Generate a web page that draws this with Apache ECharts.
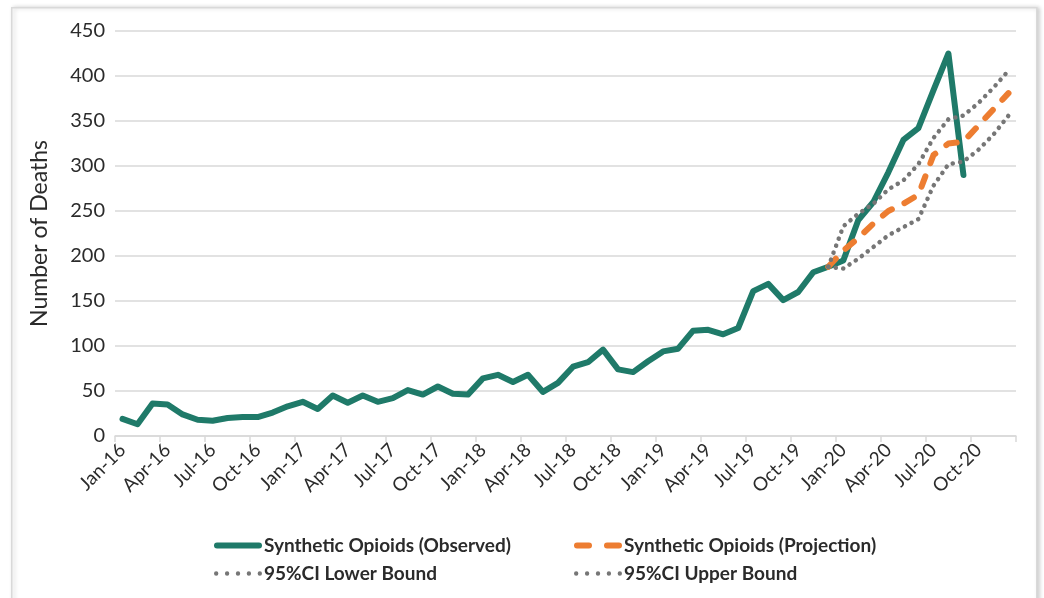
<!DOCTYPE html>
<html><head><meta charset="utf-8">
<script src="https://cdn.jsdelivr.net/npm/echarts@6/dist/echarts.min.js"></script>
<style>html,body{margin:0;padding:0;background:#fff}#c{width:1044px;height:598px}</style>
</head><body><div id="c"></div>
<script>
const months = [
  'Jan-16','Feb-16','Mar-16','Apr-16','May-16','Jun-16','Jul-16','Aug-16','Sep-16','Oct-16','Nov-16','Dec-16',
  'Jan-17','Feb-17','Mar-17','Apr-17','May-17','Jun-17','Jul-17','Aug-17','Sep-17','Oct-17','Nov-17','Dec-17',
  'Jan-18','Feb-18','Mar-18','Apr-18','May-18','Jun-18','Jul-18','Aug-18','Sep-18','Oct-18','Nov-18','Dec-18',
  'Jan-19','Feb-19','Mar-19','Apr-19','May-19','Jun-19','Jul-19','Aug-19','Sep-19','Oct-19','Nov-19','Dec-19',
  'Jan-20','Feb-20','Mar-20','Apr-20','May-20','Jun-20','Jul-20','Aug-20','Sep-20','Oct-20','Nov-20','Dec-20'
];
const observed = [
  19, 13, 36, 35, 24, 18, 17, 20, 21, 21, 26, 33,
  38, 30, 45, 37, 45, 38, 42, 51, 46, 55, 47, 46,
  64, 68, 60, 68, 49, 59, 77, 82, 96, 74, 71, 83,
  94, 97, 117, 118, 113, 120, 161, 169, 151, 160, 182, 188,
  195, 240, 260, 293, 329, 342, 384, 425, 290, null, null, null
];
const projStart = 'Dec-19';
const projection = [188, 206, 220, 236, 250, 258, 268, 312, 325, 327, 345, 363, 381];
const lowerBound = [188, 186, 197, 210, 223, 232, 241, 278, 302, 305, 318, 335, 356];
const upperBound = [188, 233, 247, 258, 274, 284, 302, 331, 352, 356, 370, 387, 406];
const yMin = 0, yMax = 450, yStep = 50;

const startIdx = months.indexOf(projStart);
function align(arr) {
  return months.map((m, i) => (i >= startIdx && i - startIdx < arr.length) ? arr[i - startIdx] : null);
}

const FONT = 'Lato';
const TXT = '#2b2b2b';
const GREEN = '#1f7a69', ORANGE = '#ed7d31', GREY = '#767676';
// legend icons (drawn as paths, scaled into the legend item box)
const ICON_SOLID = 'path://M3,0h42a3,3 0 0,1 0,6h-42a3,3 0 0,1 0,-6z';
const ICON_DASH = 'path://M3,0h12a3,3 0 0,1 0,6h-12a3,3 0 0,1 0,-6z M33,0h12a3,3 0 0,1 0,6h-12a3,3 0 0,1 0,-6z';
const ICON_DOTS = 'path://M0,2a2,2 0 1,0 4,0a2,2 0 1,0 -4,0z M10,2a2,2 0 1,0 4,0a2,2 0 1,0 -4,0z M20,2a2,2 0 1,0 4,0a2,2 0 1,0 -4,0z M30,2a2,2 0 1,0 4,0a2,2 0 1,0 -4,0z M40,2a2,2 0 1,0 4,0a2,2 0 1,0 -4,0z';

const chart = echarts.init(document.getElementById('c'), null, {renderer: 'canvas'});
const dotted = {color: GREY, width: 4.5, type: [0.1, 7.4], cap: 'round'};
const legendText = {fontFamily: FONT, fontSize: 19, fontWeight: 'bold', color: TXT, padding: [0, 0, 0, -3]};
chart.setOption({
  animation: false,
  backgroundColor: '#ffffff',
  graphic: [{
    type: 'rect', left: 11, top: 7, z: -1,
    shape: {width: 1025, height: 600},
    style: {fill: '#fff', stroke: '#d9d9d9', lineWidth: 1.5, shadowBlur: 4, shadowColor: 'rgba(0,0,0,0.18)', shadowOffsetX: 2}
  }],
  grid: {left: 115, right: 28, top: 31, bottom: 162, containLabel: false},
  legend: [
    {
      left: 209, top: 531, orient: 'vertical', itemGap: 9, itemWidth: 48, itemHeight: 14,
      data: [
        {name: 'Synthetic Opioids (Observed)', icon: ICON_SOLID},
        {name: '95%CI Lower Bound', icon: ICON_DOTS}
      ],
      textStyle: legendText
    },
    {
      left: 569, top: 531, orient: 'vertical', itemGap: 9, itemWidth: 48, itemHeight: 14,
      data: [
        {name: 'Synthetic Opioids (Projection)', icon: ICON_DASH},
        {name: '95%CI Upper Bound', icon: ICON_DOTS}
      ],
      textStyle: legendText
    }
  ],
  xAxis: {
    type: 'category', data: months, boundaryGap: true,
    axisLine: {lineStyle: {color: '#d9d9d9', width: 1.5}},
    axisTick: {show: true, interval: 2, length: 6, lineStyle: {color: '#d9d9d9', width: 1.5}},
    axisLabel: {interval: 2, rotate: 45, margin: 11, fontFamily: FONT, fontSize: 19, color: TXT}
  },
  yAxis: {
    type: 'value', min: yMin, max: yMax, interval: yStep,
    name: 'Number of Deaths', nameLocation: 'middle', nameGap: 64,
    nameTextStyle: {fontFamily: FONT, fontSize: 23, color: TXT},
    axisLine: {show: false}, axisTick: {show: false},
    splitLine: {lineStyle: {color: '#d9d9d9', width: 1.5}},
    axisLabel: {margin: 10, fontFamily: FONT, fontSize: 20, color: TXT}
  },
  series: [
    {
      name: 'Synthetic Opioids (Observed)', type: 'line', data: observed,
      showSymbol: false, symbol: 'none',
      lineStyle: {color: GREEN, width: 6, cap: 'round', join: 'round'},
      itemStyle: {color: GREEN}
    },
    {
      name: 'Synthetic Opioids (Projection)', type: 'line', data: align(projection),
      showSymbol: false, symbol: 'none',
      lineStyle: {color: ORANGE, width: 6, type: [11, 14], cap: 'round', join: 'round'},
      itemStyle: {color: ORANGE}
    },
    {
      name: '95%CI Lower Bound', type: 'line', data: align(lowerBound),
      showSymbol: false, symbol: 'none',
      lineStyle: dotted, itemStyle: {color: GREY}
    },
    {
      name: '95%CI Upper Bound', type: 'line', data: align(upperBound),
      showSymbol: false, symbol: 'none',
      lineStyle: dotted, itemStyle: {color: GREY}
    }
  ]
});
</script></body></html>
